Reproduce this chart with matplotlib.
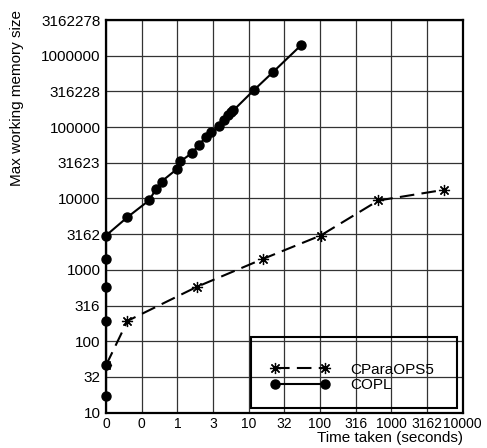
import numpy as np
import matplotlib
matplotlib.use("Agg")
import matplotlib.pyplot as plt
from matplotlib.patches import Rectangle

plt.rcParams['font.family'] = ['Liberation Sans', 'DejaVu Sans']

# time taken (seconds), 0 means below the axis floor
copl_time = [0, 0, 0, 0, 0, 0, 0.20, 0.40, 0.50, 0.60, 1.0, 1.1, 1.6, 2.0,
             2.5, 3.0, 3.8, 4.5, 5.1, 5.6, 6.1, 12, 22, 54]
copl_mem = [17, 46, 193, 578, 1410, 3030, 5480, 9380, 13400, 17300, 26100,
            33000, 43300, 56100, 72600, 84200, 102300, 126900, 145800,
            160700, 171400, 334000, 591000, 1397000]

cparaops_time = [0, 0.20, 1.87, 16.0, 102, 658, 5530]
cparaops_mem = [46, 193, 578, 1430, 3030, 9380, 13250]

xticks = np.arange(-1, 4.01, 0.5)
yticks = np.arange(1, 6.51, 0.5)


def lg(v, floor):
        return np.log10(np.maximum(np.array(v, dtype=float), floor))


fig = plt.figure(figsize=(4.87, 4.48), dpi=100)
ax = fig.add_axes([106 / 487, 1 - 412.7 / 448, 356.7 / 487, 392.7 / 448])

ax.plot(lg(cparaops_time, 0.1), lg(cparaops_mem, 10), color='black', lw=1.5,
        dashes=(7, 3.5), marker=(8, 2, 0), markersize=8, mew=0.9,
        label='CParaOPS5')
ax.plot(lg(copl_time, 0.1), lg(copl_mem, 10), color='black', lw=1.5,
        marker='o', markersize=6.5, label='COPL', clip_on=False)

ax.set_xlim(-1, 4)
ax.set_ylim(1, 6.5)
ax.set_xticks(xticks)
ax.set_yticks(yticks)
ax.set_xticklabels(['%d' % round(10 ** t) for t in xticks], fontsize=10)
ax.set_yticklabels(['%d' % round(10 ** t) for t in yticks], fontsize=11)
ax.tick_params(length=0, pad=4)
ax.tick_params(axis='x', pad=3)
ax.grid(True, color='#333333', lw=0.9)
ax.set_axisbelow(True)
for s in ax.spines.values():
        s.set_linewidth(1.6)

ax.set_xlabel('Time taken (seconds)', fontsize=11, loc='right', labelpad=0)
fig.text(17 / 487, 1 - 10 / 448, 'Max working memory size', rotation=90,
         ha='center', va='top', fontsize=11)

ax.add_patch(Rectangle((0.4057, 0.0112), 0.5793, 0.1823, transform=ax.transAxes,
                       fill=False, lw=1.5, color='black', zorder=5))
ax.legend(loc='upper left', bbox_to_anchor=(0.460, 0.127), frameon=False,
          fontsize=11, numpoints=2, handlelength=3.87, handletextpad=1.37,
          labelspacing=0.1, borderpad=0, borderaxespad=0)

fig.savefig('out.png', dpi=100)
